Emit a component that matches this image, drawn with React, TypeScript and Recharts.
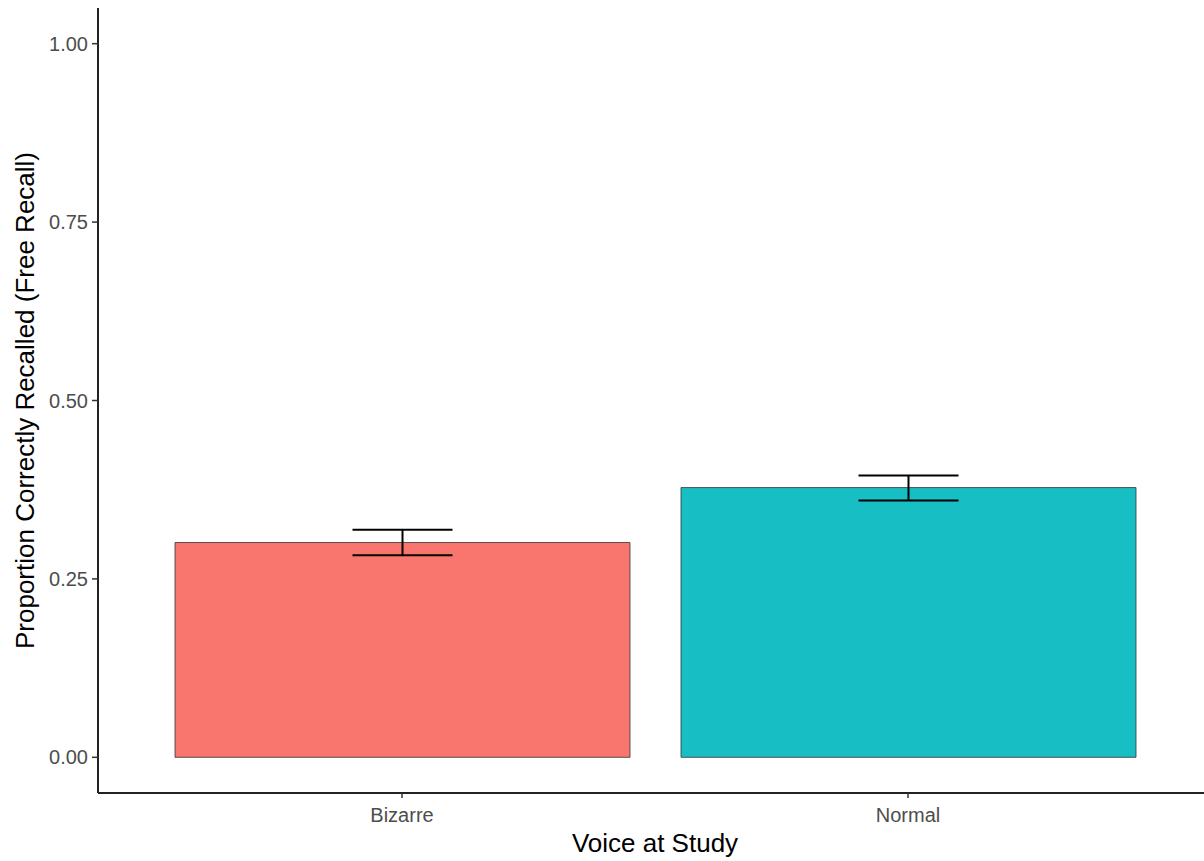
import { BarChart, Bar, XAxis, YAxis, ErrorBar, Cell, Label } from 'recharts'

// mean proportion recalled per study voice, with the lower / upper bounds of the error bars
const voices = ['Bizarre', 'Normal']
const meanRecall = [0.301, 0.378]
const lowerBound = [0.283, 0.36]
const upperBound = [0.319, 0.395]
const barColors = ['#F8766D', '#17BFC5']
const yTicks = [0, 0.25, 0.5, 0.75, 1]

const data = voices.map((voice, i) => ({
  voice,
  recall: meanRecall[i],
  err: [meanRecall[i] - lowerBound[i], upperBound[i] - meanRecall[i]],
}))

const font = '"Liberation Sans", Arial, Helvetica, sans-serif'

const YTitle = (props: any) => {
  const vb = props.viewBox || { x: 0, y: 0, width: 0, height: 0 }
  const cx = vb.x + 25
  const cy = vb.y + vb.height / 2
  return (
    <text
      x={cx}
      y={cy}
      transform={`rotate(-90 ${cx} ${cy})`}
      textAnchor="middle"
      dominantBaseline="central"
      fill="#000"
      fontSize={26}
      fontFamily={font}
    >
      Proportion Correctly Recalled (Free Recall)
    </text>
  )
}

const App = () => {
  return (
    <div
      style={{
        position: 'absolute',
        left: 0,
        top: 0,
        width: 1204,
        height: 861,
        overflow: 'hidden',
        background: '#fff',
        fontFamily: font,
      }}
    >
      <BarChart
        width={1212}
        height={861}
        data={data}
        margin={{ top: 8, right: 0, bottom: 0, left: 0 }}
      >
        <XAxis
          dataKey="voice"
          height={68}
          padding={{ left: 51, right: 51 }}
          tickSize={5}
          tickMargin={10}
          tickLine={{ stroke: '#333', strokeWidth: 1.5 }}
          axisLine={{ stroke: '#222', strokeWidth: 2 }}
          tick={{ fill: '#4D4D4D', fontSize: 20, fontFamily: font }}
        >
          <Label
            value="Voice at Study"
            position="insideBottom"
            offset={9}
            fill="#000"
            fontSize={26}
            fontFamily={font}
          />
        </XAxis>
        <YAxis
          width={98}
          domain={[-0.05, 1.05]}
          allowDataOverflow
          ticks={yTicks}
          tickFormatter={v => v.toFixed(2)}
          tickSize={6}
          tickMargin={4}
          tickLine={{ stroke: '#333', strokeWidth: 1.5 }}
          axisLine={{ stroke: '#222', strokeWidth: 2 }}
          tick={{ fill: '#4D4D4D', fontSize: 20, fontFamily: font }}
        >
          <Label content={<YTitle />} />
        </YAxis>
        <Bar dataKey="recall" barSize={455} stroke="#333" strokeWidth={0.8} isAnimationActive={false}>
          {data.map((d, i) => (
            <Cell key={d.voice} fill={barColors[i]} />
          ))}
          <ErrorBar dataKey="err" width={50} stroke="#000" strokeWidth={2} direction="y" isAnimationActive={false} />
        </Bar>
      </BarChart>
    </div>
  )
}

export default App
